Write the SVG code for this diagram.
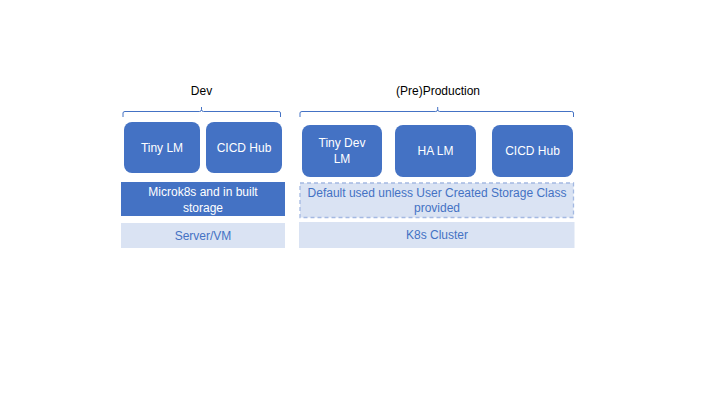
<svg xmlns="http://www.w3.org/2000/svg" width="720" height="405" viewBox="0 0 720 405">
<style>
.t{font-family:"Liberation Sans",Arial,sans-serif;font-size:12px;text-anchor:middle}
.hdr{fill:#000}
.w{fill:#fff}
.b{fill:#4472c4}
.node{fill:#4472c4}
.light{fill:#dae3f3}
.brace{fill:none;stroke:#4472c4;stroke-width:1}
</style>
<rect width="720" height="405" fill="#fff"/>
<g id="connectors">
<path class="brace" d="M123,117 V113 Q123,111.5 125,111.5 H199.5 Q201.5,111.5 201.5,109.5 V107 M201.5,109.5 Q201.5,111.5 203.5,111.5 H278.5 Q280.5,111.5 280.5,113 V117"/>
<path class="brace" d="M300,117 V113 Q300,111.5 302,111.5 H435.7 Q437.7,111.5 437.7,109.5 V107 M437.7,109.5 Q437.7,111.5 439.7,111.5 H571.5 Q573.5,111.5 573.5,113 V117"/>
</g>
<g id="label-dev"><text class="t hdr" x="201.5" y="95">Dev</text></g>
<g id="label-preprod"><text class="t hdr" x="438" y="95">(Pre)Production</text></g>
<g id="tiny-lm"><rect class="node" x="124" y="122" width="76" height="51" rx="8"/><text class="t w" x="162" y="152">Tiny LM</text></g>
<g id="cicd-hub-dev"><rect class="node" x="206" y="122" width="76" height="51" rx="8"/><text class="t w" x="244" y="152">CICD Hub</text></g>
<g id="microk8s"><rect class="node" x="121" y="182" width="164" height="34"/><text class="t w" x="203" y="196">Microk8s and in built</text><text class="t w" x="203" y="212">storage</text></g>
<g id="server-vm"><rect class="light" x="121" y="223" width="164" height="25"/><text class="t b" x="203" y="240">Server/VM</text></g>
<g id="tiny-dev-lm"><rect class="node" x="302" y="125" width="80" height="52" rx="8"/><text class="t w" x="342" y="147">Tiny Dev</text><text class="t w" x="342" y="163">LM</text></g>
<g id="ha-lm"><rect class="node" x="395" y="125" width="81" height="52" rx="8"/><text class="t w" x="435.5" y="155">HA LM</text></g>
<g id="cicd-hub-prod"><rect class="node" x="492" y="125" width="81" height="52" rx="8"/><text class="t w" x="532.5" y="155">CICD Hub</text></g>
<g id="storage-default"><rect x="300" y="183" width="273.5" height="34.5" fill="#dae3f3" stroke="#a4b9e2" stroke-width="1.3" stroke-dasharray="4,3"/><text class="t b" x="437" y="197">Default used unless User Created Storage Class</text><text class="t b" x="437" y="212">provided</text></g>
<g id="k8s-cluster"><rect class="light" x="299" y="222" width="275.5" height="26"/><text class="t b" x="437" y="239">K8s Cluster</text></g>
</svg>
